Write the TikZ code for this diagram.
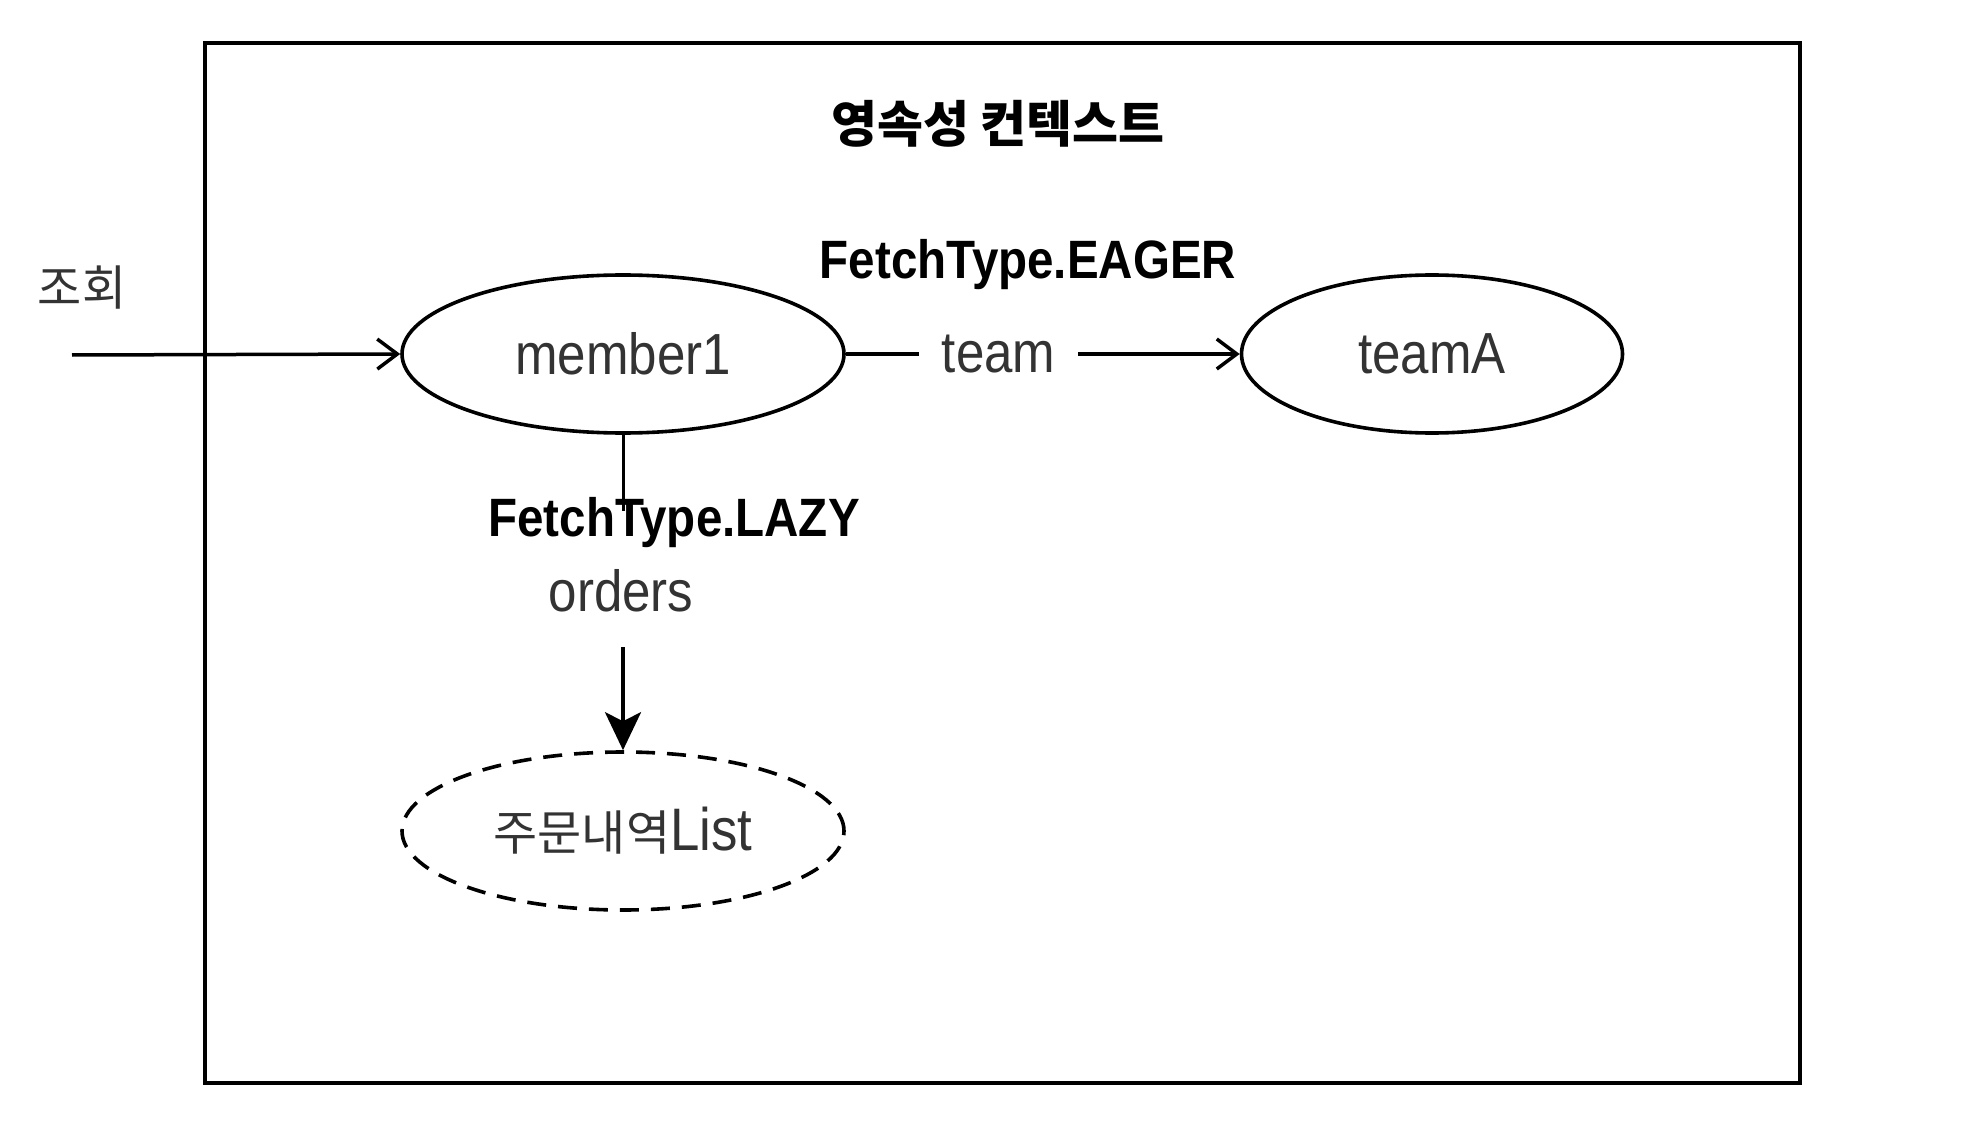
\documentclass[tikz,border=0pt]{standalone}
\usepackage{fontspec}
\setmainfont{Liberation Sans}[FakeStretch=0.88]
\newfontfamily\kr{Noto Sans CJK KR}
\usetikzlibrary{shapes.geometric,arrows.meta}
\definecolor{txt}{HTML}{333333}
\tikzset{
  every picture/.style={x=1pt,y=-1pt},
  oval/.style={ellipse,draw=black,line width=3.6pt,minimum width=442pt,minimum height=158pt,inner sep=0pt,text=txt,font=\fontsize{58}{60}\selectfont},
  lbl/.style={font=\bfseries\fontsize{54}{56}\selectfont,text=black,inner sep=0pt},
  reg/.style={font=\fontsize{58}{60}\selectfont,text=txt,inner sep=0pt},
  conn/.style={line width=3.5pt,draw=black},
  openarr/.style={conn,-{Straight Barb[length=20pt,width=30pt,line width=3.5pt]}},
  fillarr/.style={conn,-{Stealth[length=38pt,width=36pt,inset=9pt]}},
}
\begin{document}
\begin{tikzpicture}
\useasboundingbox (0,0) rectangle (1980,1147);
\fill[white] (0,0) rectangle (1980,1147);
\draw[line width=3.5pt] (205,43) rectangle (1800,1083);
\node[font=\kr\bfseries\fontsize{50}{52}\selectfont,text=black] (title) at (998,124) {영속성 컨텍스트};
\node[font=\kr\fontsize{48}{50}\selectfont,text=txt] (jh) at (82,288) {조회};
\coordinate (src) at (72,355);
\node[oval] (m1) at (623,354) {member1};
\node[oval,minimum width=381pt] (tA) at (1432,354) {teamA};
\node[oval,dashed,dash pattern=on 19pt off 12pt,font=\fontsize{60}{62}\selectfont] (list) at (623,831) {{\kr\fontsize{48}{50}\selectfont 주문내역}List};
\node[lbl] (eager) at (1028,265) {FetchType.EAGER};
\draw[openarr] (src) -- (m1.west);
\draw[openarr] (m1.east) -- node[pos=0.388,fill=white,reg,inner xsep=23pt,inner ysep=4pt] (team) {team} (tA.west);
\coordinate (lazyend) at (623,511);
\draw[conn,line width=3pt] (m1.south) -- (lazyend);
\node[lbl] (lazy) at (674,523) {FetchType.LAZY};
\node[reg] (orders) at (621,591) {orders};
\coordinate (ordstart) at (623,647);
\draw[fillarr] (ordstart) -- (list.north);
\end{tikzpicture}
\end{document}
